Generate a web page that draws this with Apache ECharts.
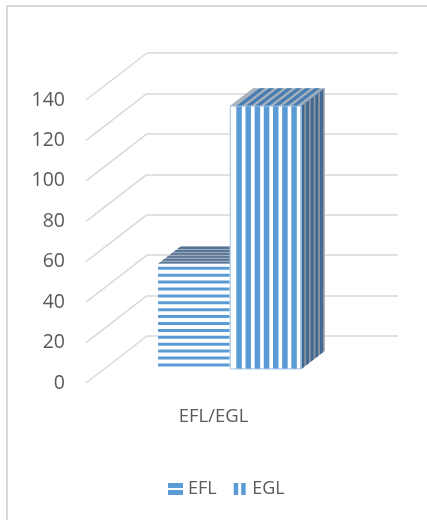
<!DOCTYPE html>
<html>
<head>
<meta charset="utf-8">
<script src="https://cdn.jsdelivr.net/npm/echarts@6/dist/echarts.min.js"></script>
<style>
  html, body { margin: 0; padding: 0; background: #fff; }
  #chart { width: 427px; height: 520px; }
</style>
</head>
<body>
<div id="chart"></div>
<script>
// Chart data
const CATEGORIES = ['EFL/EGL'];
const SERIES_NAMES = ['EFL', 'EGL'];
const EFL_VALUES = [52];
const EGL_VALUES = [130];
const Y_TICKS = [0, 20, 40, 60, 80, 100, 120, 140];

// Oblique 3D projection: vector from the back wall to the front plane
const DEPTH = [-61, 47];
const BAR_BACK = 0.32;   // depth fraction of a bar's back face
const BAR_FRONT = 0.70;  // depth fraction of a bar's front face
const FONT = "'Open Sans', 'Noto Sans', sans-serif";
const TEXT = '#595959';
const BLUE = '#5B9BD5';
const GRID_LINE = '#D9D9D9';

const BACK_GRID = { left: 147, top: 53, width: 251, height: 283 };
const FRONT_GRID = {
  left: BACK_GRID.left + DEPTH[0], top: BACK_GRID.top + DEPTH[1],
  width: BACK_GRID.width, height: BACK_GRID.height
};

function lerp(a, b, t) { return a + (b - a) * t; }

// Builds the 3D column for one series; slot 0 sits left of the category centre, slot 1 right
function columnRenderer(slot) {
  return function (params, api) {
    const base = api.coord([api.value(0), 0]);
    const top = api.coord([api.value(0), api.value(1)]);
    const band = api.size([1, 0])[0];
    const w = band / 3.5;
    const xl = base[0] + (slot === 0 ? -w : 0);
    const xr = xl + w;
    const f = [DEPTH[0] * BAR_FRONT, DEPTH[1] * BAR_FRONT];
    const b = [DEPTH[0] * BAR_BACK, DEPTH[1] * BAR_BACK];
    const yt = top[1], yb = base[1];
    const fx = xl + f[0], fy = yt + f[1], fh = yb - yt;
    const children = [];

    // top face point at x, t along the depth (0 front .. 1 back); side face point at y
    const topPt = (x, t) => [lerp(x + f[0], x + b[0], t), lerp(yt + f[1], yt + b[1], t)];
    const sidePt = (y, t) => [lerp(xr + f[0], xr + b[0], t), lerp(y + f[1], y + b[1], t)];

    if (slot === 0) {
      // side face
      children.push({ type: 'polygon', shape: { points: [sidePt(yt, 0), sidePt(yt, 1), sidePt(yb, 1), sidePt(yb, 0)] },
        style: { fill: '#41719C' } });
      // top face: fine horizontal stripes along the depth
      children.push({ type: 'polygon', shape: { points: [topPt(xl, 0), topPt(xr, 0), topPt(xr, 1), topPt(xl, 1)] },
        style: { fill: '#9EA9B5' } });
      const n = 6;
      for (let k = 0; k < n; k++) {
        const t0 = k / n, t1 = t0 + 0.6 / n;
        children.push({ type: 'polygon', shape: { points: [topPt(xl, t0), topPt(xr, t0), topPt(xr, t1), topPt(xl, t1)] },
          style: { fill: '#56779A' } });
      }
      // front face: wide horizontal stripes
      children.push({ type: 'rect', shape: { x: fx, y: fy, width: w, height: fh }, style: { fill: '#fff' } });
      for (let y = fy + 3; y < fy + fh; y += 6.9) {
        children.push({ type: 'rect', shape: { x: fx, y: y, width: w, height: Math.min(3, fy + fh - y) },
          style: { fill: BLUE } });
      }
    } else {
      const period = 9.17, stripe = 5.5, start = 6.5;
      // side face: compressed vertical stripes
      children.push({ type: 'polygon', shape: { points: [sidePt(yt, 0), sidePt(yt, 1), sidePt(yb, 1), sidePt(yb, 0)] },
        style: { fill: '#8895A4' } });
      const n = 5;
      for (let k = 0; k < n; k++) {
        const t0 = k / n, t1 = t0 + 0.6 / n;
        children.push({ type: 'polygon', shape: { points: [sidePt(yt, t0), sidePt(yt, t1), sidePt(yb, t1), sidePt(yb, t0)] },
          style: { fill: '#3F678F' } });
      }
      // top face: the front stripes carried back along the depth
      children.push({ type: 'polygon', shape: { points: [topPt(xl, 0), topPt(xr, 0), topPt(xr, 1), topPt(xl, 1)] },
        style: { fill: '#A9B3BD' } });
      for (let x = xl + start; x < xr; x += period) {
        const x2 = Math.min(x + stripe, xr);
        children.push({ type: 'polygon', shape: { points: [topPt(x, 0), topPt(x2, 0), topPt(x2, 1), topPt(x, 1)] },
          style: { fill: '#4A7DB2' } });
      }
      // front face: vertical stripes
      children.push({ type: 'rect', shape: { x: fx, y: fy, width: w, height: fh }, style: { fill: '#fff' } });
      for (let x = fx + start; x < fx + w; x += period) {
        children.push({ type: 'rect', shape: { x: x, y: fy, width: Math.min(stripe, fx + w - x), height: fh },
          style: { fill: BLUE } });
      }
      children.push({ type: 'rect', shape: { x: fx + 0.5, y: fy, width: w - 1, height: fh },
        style: { fill: 'none', stroke: '#9DC3E6', lineWidth: 1 } });
    }
    return { type: 'group', children: children };
  };
}

// Side-wall gridlines running from the back wall out to the front plane
function sideWallRenderer(params, api) {
  const p = api.coord([0, api.value(1)]);
  const x0 = params.coordSys.x;
  return {
    type: 'line',
    shape: { x1: x0, y1: p[1], x2: x0 + DEPTH[0], y2: p[1] + DEPTH[1] },
    style: { stroke: GRID_LINE, lineWidth: 1.5 }
  };
}

const chart = echarts.init(document.getElementById('chart'), null, { renderer: 'canvas' });

chart.setOption({
  animation: false,
  backgroundColor: '#fff',
  textStyle: { fontFamily: FONT },
  graphic: [{
    type: 'rect', z: -10,
    shape: { x: 7, y: 6, width: 440, height: 530 },
    style: { fill: 'none', stroke: '#D9D9D9', lineWidth: 2 }
  }],
  grid: [
    Object.assign({ containLabel: false }, BACK_GRID),
    Object.assign({ containLabel: false }, FRONT_GRID)
  ],
  xAxis: [
    { type: 'category', gridIndex: 0, data: CATEGORIES, show: false },
    {
      type: 'category', gridIndex: 1, data: CATEGORIES,
      axisLine: { show: false }, axisTick: { show: false },
      axisLabel: { color: TEXT, fontSize: 18.5, fontFamily: FONT, margin: 24, padding: [0, 0, 0, 4] }
    }
  ],
  yAxis: [
    {
      type: 'value', gridIndex: 0, min: 0, max: 140, interval: 20,
      axisLine: { show: false }, axisTick: { show: false }, axisLabel: { show: false },
      splitLine: { show: true, lineStyle: { color: GRID_LINE, width: 1.5 } }
    },
    {
      type: 'value', gridIndex: 1, min: 0, max: 140, interval: 20,
      axisLine: { show: false }, axisTick: { show: false }, splitLine: { show: false },
      axisLabel: { color: TEXT, fontSize: 19.5, fontFamily: FONT, margin: 21, padding: [4, 0, 0, 0] }
    }
  ],
  legend: {
    left: 163, top: 475,
    itemWidth: 15, itemHeight: 12, itemGap: 17,
    textStyle: { color: TEXT, fontSize: 18, fontFamily: FONT },
    data: [
      { name: SERIES_NAMES[0], icon: 'path://M0,0H15V5H0ZM0,7H15V12H0Z' },
      { name: SERIES_NAMES[1], icon: 'path://M0,0H4.5V12H0ZM7.5,0H12V12H7.5Z' }
    ]
  },
  series: [
    {
      type: 'custom', name: 'side-wall', xAxisIndex: 0, yAxisIndex: 0, z: 1,
      silent: true, renderItem: sideWallRenderer,
      data: Y_TICKS.map(v => [0, v])
    },
    {
      type: 'custom', name: SERIES_NAMES[0], xAxisIndex: 0, yAxisIndex: 0, z: 3,
      itemStyle: { color: BLUE }, renderItem: columnRenderer(0),
      data: EFL_VALUES.map((v, i) => [i, v])
    },
    {
      type: 'custom', name: SERIES_NAMES[1], xAxisIndex: 0, yAxisIndex: 0, z: 4,
      itemStyle: { color: BLUE }, renderItem: columnRenderer(1),
      data: EGL_VALUES.map((v, i) => [i, v])
    }
  ]
});
</script>
</body>
</html>
